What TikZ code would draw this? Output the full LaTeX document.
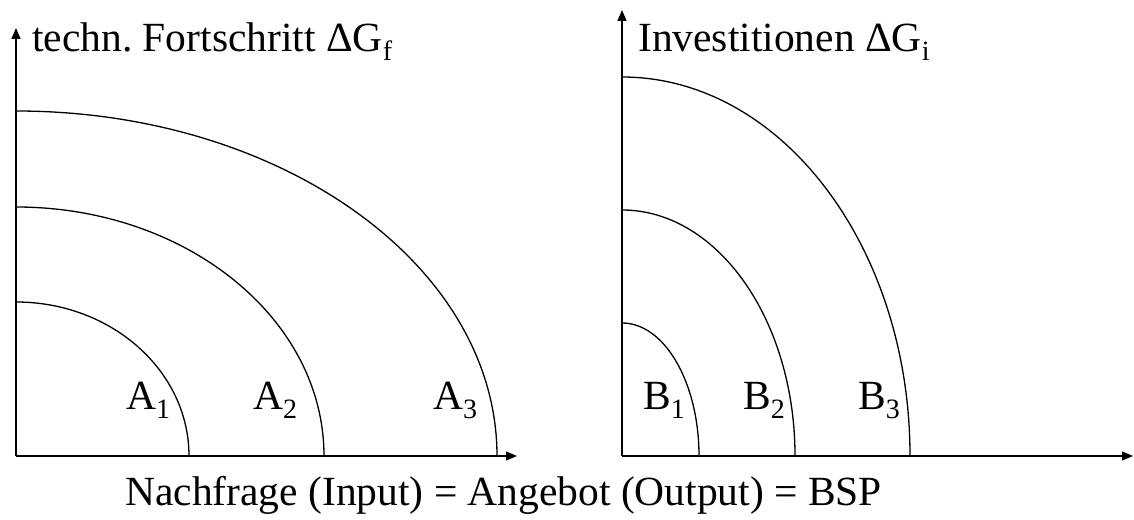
\documentclass[tikz,border=0pt]{standalone}
\usepackage{fontspec}
\setmainfont{Liberation Serif}
\usetikzlibrary{arrows.meta}
\frenchspacing
\newcommand{\sbs}[1]{\raisebox{-9pt}{\fontsize{28}{28}\selectfont #1}}
\begin{document}
\begin{tikzpicture}[x=1pt,y=1pt,
  axis/.style={line width=1.4pt,-{Triangle[length=11pt,width=9pt]}},
  curve/.style={line width=1.3pt},
  lbl/.style={anchor=base west,inner sep=0pt,font=\fontsize{41.5}{41.5}\selectfont}]
\useasboundingbox (0,0) rectangle (1134,519);
% left diagram
\coordinate (O1) at (16,63);
\coordinate (Y1) at (16,491);
\coordinate (X1) at (517,63);
\draw[axis] (O1) -- (Y1);
\draw[axis] (O1) -- (X1);
\draw[curve] (189,63) arc[start angle=0,end angle=90,x radius=173,y radius=154];
\draw[curve] (324,63) arc[start angle=0,end angle=90,x radius=308,y radius=249];
\draw[curve] (497,63) arc[start angle=0,end angle=90,x radius=481,y radius=345];
\node[lbl] (tl) at (32,467) {techn. Fortschritt ΔG\sbs{f}};
\node[lbl] (a1) at (126,109) {A\sbs{1}};
\node[lbl] (a2) at (253,109) {A\sbs{2}};
\node[lbl] (a3) at (433,109) {A\sbs{3}};
% right diagram
\coordinate (O2) at (622,63);
\coordinate (Y2) at (622,509);
\coordinate (X2) at (1133,63);
\draw[axis] (O2) -- (Y2);
\draw[axis] (O2) -- (X2);
\draw[curve] (699,63) arc[start angle=0,end angle=90,x radius=77,y radius=133];
\draw[curve] (795,63) arc[start angle=0,end angle=90,x radius=173,y radius=246];
\draw[curve] (910,63) arc[start angle=0,end angle=90,x radius=288,y radius=379];
\node[lbl] (tr) at (638,467) {Investitionen ΔG\sbs{i}};
\node[lbl] (b1) at (643,109) {B\sbs{1}};
\node[lbl] (b2) at (743,109) {B\sbs{2}};
\node[lbl] (b3) at (858,109) {B\sbs{3}};
% bottom label
\node[lbl] (bot) at (125,13) {Nachfrage (Input) = Angebot (Output) = BSP};
\end{tikzpicture}
\end{document}
